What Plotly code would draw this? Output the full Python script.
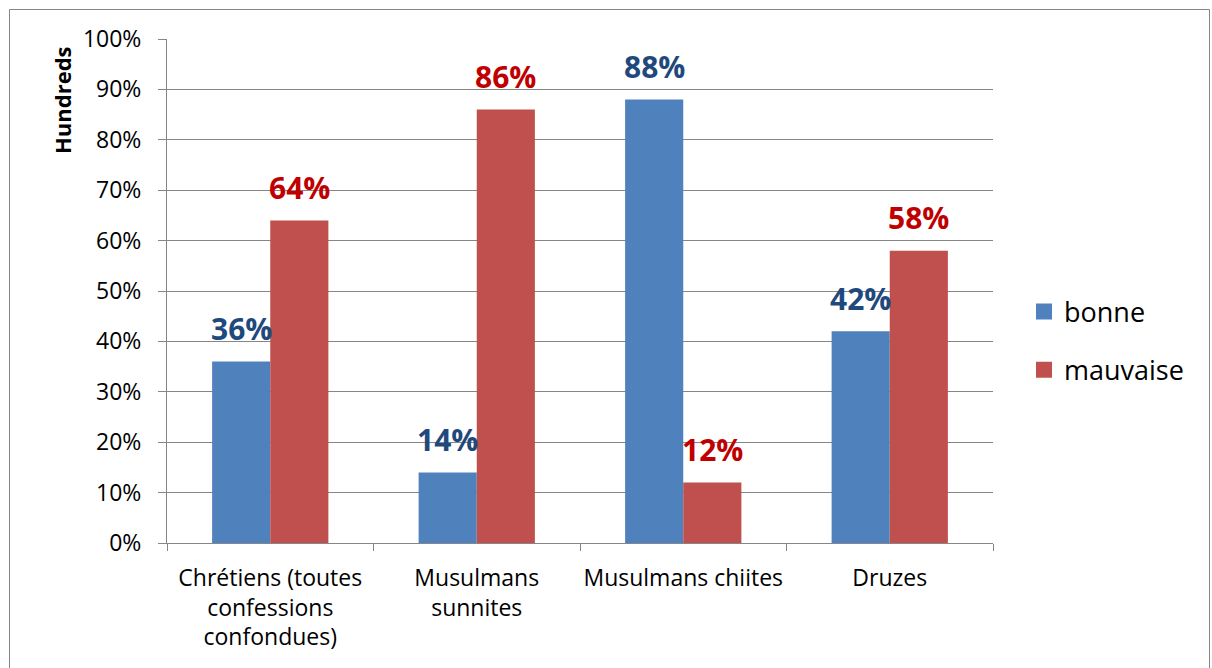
import plotly.graph_objects as go

categories = ["Chrétiens (toutes<br>confessions<br>confondues)", "Musulmans<br>sunnites",
              "Musulmans chiites", "Druzes"]
bonne = [36, 14, 88, 42]
mauvaise = [64, 86, 12, 58]
tick_vals = [0, 10, 20, 30, 40, 50, 60, 70, 80, 90, 100]
tick_text = ["0%", "10%", "20%", "30%", "40%", "50%", "60%", "70%", "80%", "90%", "100%"]

BLUE = "#4F81BD"
RED = "#C0504D"
BLUE_TXT = "#1F497D"
RED_TXT = "#C00000"
GRID = "#868686"
FONT = "Open Sans"

W, H = 1212, 668
L, R, T, B = 167, 1212 - 993, 39, 668 - 543
pw, ph = W - L - R, H - T - B

fig = go.Figure()
fig.add_trace(go.Bar(x=categories, y=bonne, name="bonne", marker=dict(color=BLUE, line=dict(width=0)),
                     showlegend=False))
fig.add_trace(go.Bar(x=categories, y=mauvaise, name="mauvaise", marker=dict(color=RED, line=dict(width=0)),
                     showlegend=False))
# legend entries
for name, col in [("bonne", BLUE), ("mauvaise", RED)]:
    fig.add_trace(go.Scatter(x=[None], y=[None], mode="markers", name=name, legendgroup=name,
                             marker=dict(symbol="square", size=16, color=col)))

# data labels
off = 0.1407
for i, (b, m) in enumerate(zip(bonne, mauvaise)):
    fig.add_annotation(x=i - off, y=b, text=f"<b>{b}%</b>", showarrow=False, yanchor="middle",
                       yshift=33, font=dict(family=FONT, size=30, color=BLUE_TXT))
    fig.add_annotation(x=i + off, y=m, text=f"<b>{m}%</b>", showarrow=False, yanchor="middle",
                       yshift=33, font=dict(family=FONT, size=30, color=RED_TXT))

# y-axis title
fig.add_annotation(xref="paper", yref="paper", x=(62 - L) / pw, y=(543 - 100) / ph,
                   xanchor="center", yanchor="middle",
                   text="<b>Hundreds</b>", textangle=-90, showarrow=False,
                   font=dict(family=FONT, size=22, color="black"))

# chart border
fig.add_shape(type="rect", xref="paper", yref="paper",
              x0=(9.5 - L) / pw, x1=(1209.5 - L) / pw,
              y0=(543 - 700) / ph, y1=(543 - 9.5) / ph,
              line=dict(color=GRID, width=1), fillcolor="rgba(0,0,0,0)", layer="below")

fig.update_layout(
    width=W, height=H,
    margin=dict(l=L, r=R, t=T, b=B, autoexpand=False),
    paper_bgcolor="white", plot_bgcolor="white",
    barmode="group", bargap=0.437, bargroupgap=0,
    font=dict(family=FONT, size=22, color="black"),
    legend=dict(x=(1024 - L) / pw, y=(543 - 341) / ph, xanchor="left", yanchor="middle",
                font=dict(family=FONT, size=27, color="black"), tracegroupgap=20,
                bgcolor="rgba(0,0,0,0)"),
    xaxis=dict(showline=True, linecolor=GRID, linewidth=1, ticks="outside", tickson="boundaries",
               ticklen=7, tickcolor=GRID, tickfont=dict(family=FONT, size=23, color="black"),
               tickangle=0, ticklabelstandoff=14, range=[-0.5, 3.5], fixedrange=True),
    yaxis=dict(range=[0, 100], tickmode="array", tickvals=tick_vals, ticktext=tick_text,
               showgrid=True, gridcolor=GRID,
               gridwidth=1, showline=True, linecolor=GRID, linewidth=1, ticks="outside", ticklen=8,
               tickcolor=GRID, tickfont=dict(family=FONT, size=23, color="black"),
               ticklabelstandoff=12, zeroline=False),
)

fig.write_html("out.html", config={"displayModeBar": False},
               post_script="document.body.style.margin='0';document.body.style.overflow='hidden';")
